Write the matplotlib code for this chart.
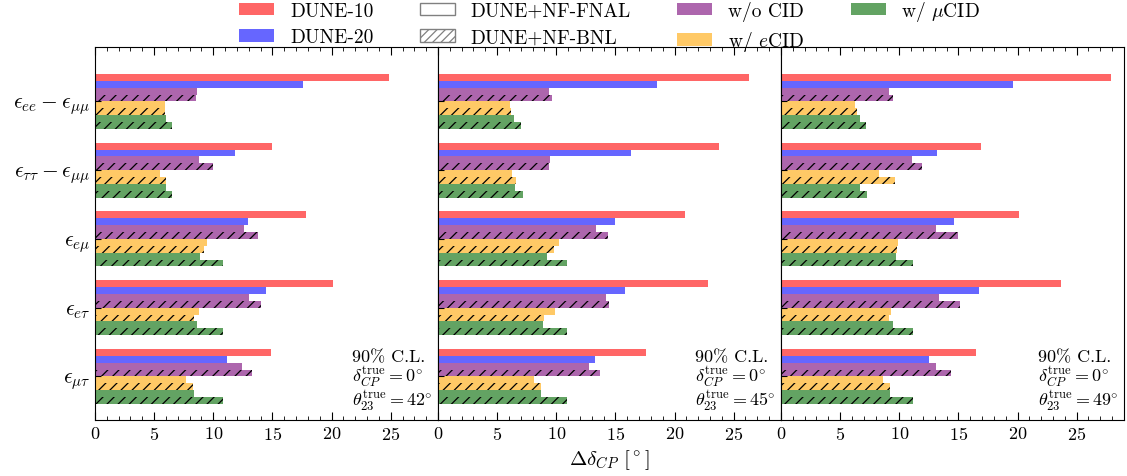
import numpy as np
import matplotlib
matplotlib.use("Agg")
from matplotlib import pyplot as plt
from matplotlib.patches import Patch
from matplotlib.ticker import MultipleLocator

plt.rcParams['font.family'] = 'serif'
plt.rcParams['font.serif'] = ['cmr10']
plt.rcParams['mathtext.fontset'] = 'cm'
plt.rcParams['axes.formatter.use_mathtext'] = True
plt.rcParams['hatch.linewidth'] = 0.9

# couplings (rows) and panels (theta23 true)
couplings = [r'$\epsilon_{ee}-\epsilon_{\mu\mu}$', r'$\epsilon_{\tau\tau}-\epsilon_{\mu\mu}$',
             r'$\epsilon_{e\mu}$', r'$\epsilon_{e\tau}$', r'$\epsilon_{\mu\tau}$']
theta23 = [42, 45, 49]

# Delta delta_CP [deg], one row per panel
dune10 = [[24.9, 15.0, 17.8, 20.1, 14.9],
          [26.3, 23.8, 20.9, 22.8, 17.6],
          [27.9, 16.9, 20.15, 23.7, 16.5]]
dune20 = [[17.6, 11.8, 12.9, 14.5, 11.2],
          [18.5, 16.3, 15.0, 15.8, 13.3],
          [19.6, 13.2, 14.6, 16.75, 12.5]]
nocid_fnal = [[8.6, 8.8, 12.6, 13.0, 12.4],
              [9.35, 9.5, 13.4, 14.2, 12.8],
              [9.1, 11.1, 13.1, 13.4, 13.1]]
nocid_bnl = [[8.5, 10.0, 13.8, 14.0, 13.3],
             [9.6, 9.35, 14.4, 14.5, 13.7],
             [9.5, 11.9, 15.0, 15.1, 14.4]]
ecid_fnal = [[5.95, 5.5, 9.5, 8.8, 7.7],
             [6.07, 6.24, 10.2, 9.9, 8.1],
             [6.3, 8.3, 9.9, 9.3, 8.6]]
ecid_bnl = [[5.9, 6.0, 9.25, 8.4, 8.3],
            [6.15, 6.6, 9.8, 9.0, 8.7],
            [6.4, 9.6, 9.8, 9.1, 9.2]]
mucid_fnal = [[6.0, 6.0, 8.9, 8.6, 8.4],
              [6.4, 6.5, 9.2, 8.85, 8.7],
              [6.7, 6.65, 9.7, 9.45, 9.2]]
mucid_bnl = [[6.5, 6.5, 10.8, 10.8, 10.8],
             [7.0, 7.2, 10.9, 10.9, 10.9],
             [7.15, 7.3, 11.2, 11.2, 11.2]]

red = '#ff6666'
blue = '#6666ff'
purple = '#ad66ad'
orange = '#ffc966'
green = '#63a363'

series = [(dune10, red, None), (dune20, blue, None),
          (nocid_fnal, purple, None), (nocid_bnl, purple, '///'),
          (ecid_fnal, orange, None), (ecid_bnl, orange, '///'),
          (mucid_fnal, green, None), (mucid_bnl, green, '///')]

fig, axes = plt.subplots(1, 3, figsize=(11.27, 4.77), dpi=100, sharey=True)
fig.subplots_adjust(left=0.0843, right=0.9973, top=0.899, bottom=0.118, wspace=0.0)

y = np.arange(len(couplings))
h = 0.1
for p, ax in enumerate(axes):
    for i, (vals, col, hatch) in enumerate(series):
        off = -0.35 + i * h
        if hatch:
            ax.barh(y + off, vals[p], height=h, color=col, hatch=hatch,
                    edgecolor='k', linewidth=0)
        else:
            ax.barh(y + off, vals[p], height=h, color=col, linewidth=0)
    ax.set_xlim(0, 29)
    ax.set_ylim(4.63, -0.79)
    ax.xaxis.set_major_locator(MultipleLocator(5))
    ax.xaxis.set_minor_locator(MultipleLocator(1))
    ax.tick_params(axis='x', which='both', direction='in', top=True, labelsize=13)
    ax.tick_params(axis='x', which='major', length=6)
    ax.tick_params(axis='x', which='minor', length=3)
    ax.tick_params(axis='y', direction='in', length=4, labelsize=15.5)
    ax.text(0.985, 0.02, '90% C.L.\n' + r'$\delta_{CP}^{\rm true}=0\!^\circ$' + '\n'
            + r'$\theta_{23}^{\rm true}=%d\!^\circ$' % theta23[p],
            transform=ax.transAxes, ha='right', va='bottom', multialignment='left',
            fontsize=13, linespacing=0.95)

axes[0].set_yticks(y)
axes[0].set_yticklabels(couplings)
axes[1].set_xlabel(r'$\Delta\delta_{CP}$ [$^\circ$]', fontsize=15)

handles = [Patch(facecolor=red, label='DUNE-10'),
           Patch(facecolor=blue, label='DUNE-20'),
           Patch(facecolor='white', edgecolor='gray', label='DUNE+NF-FNAL'),
           Patch(facecolor='white', edgecolor='gray', hatch='////', label='DUNE+NF-BNL'),
           Patch(facecolor=purple, label='w/o CID'),
           Patch(facecolor=orange, label=r'w/ $e$CID'),
           Patch(facecolor=green, label=r'w/ $\mu$CID')]
fig.legend(handles=handles, ncol=4, loc='upper center', bbox_to_anchor=(0.541, 1.025),
           frameon=False, fontsize=14, handlelength=1.8, handleheight=0.6,
           handletextpad=0.8, columnspacing=2.4, labelspacing=0.45, borderpad=0.1)

plt.savefig('out.png', dpi=100)
